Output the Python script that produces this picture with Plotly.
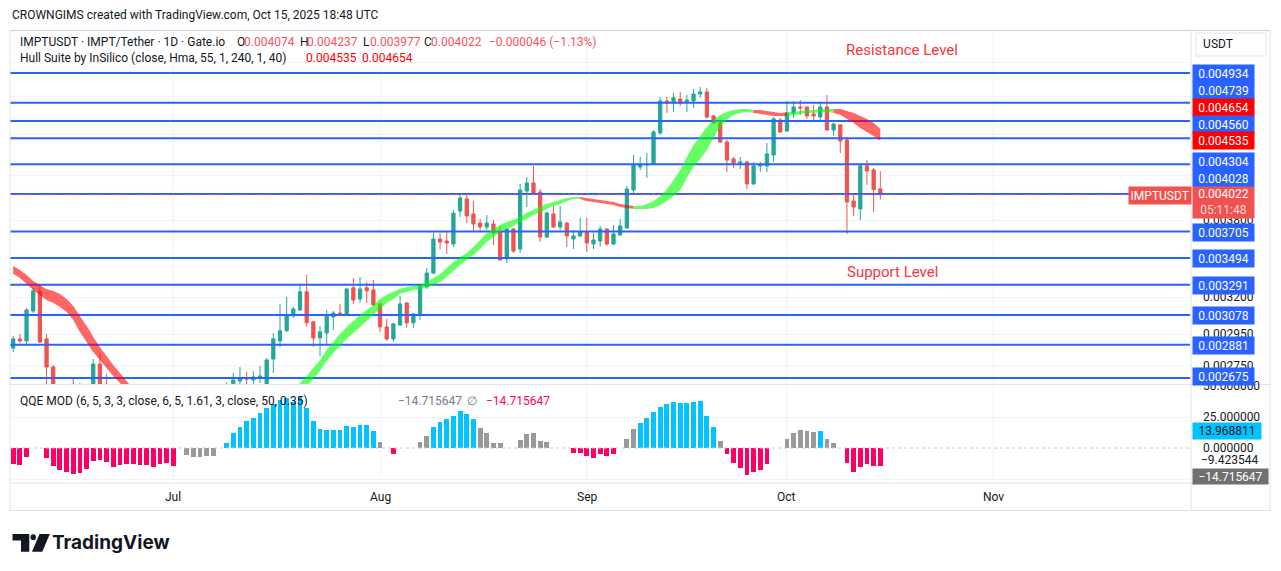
import math
import pandas as pd
import plotly.graph_objects as go

# ---------------- data ----------------
start_date = "2025-06-07"

opens = [
    0.002859, 0.002918, 0.002905, 0.003105, 0.003240, 0.002918, 0.002741, 0.002590, 0.002540, 0.002490,
    0.002450, 0.002530, 0.002510, 0.002759, 0.002540, 0.002470, 0.002430, 0.002460, 0.002420, 0.002440,
    0.002410, 0.002430, 0.002400, 0.002440, 0.002420, 0.002450, 0.002480, 0.002470, 0.002510, 0.002540,
    0.002530, 0.002570, 0.002600, 0.002634, 0.002657, 0.002675, 0.002663, 0.002675, 0.002634, 0.002790,
    0.002905, 0.002971, 0.003071, 0.003112, 0.003240, 0.003031, 0.002924, 0.002957, 0.003064, 0.003091,
    0.003085, 0.003269, 0.003189, 0.003269, 0.003254, 0.003154, 0.002997, 0.002918, 0.003010, 0.003161,
    0.003024, 0.003078, 0.003276, 0.003378, 0.003644, 0.003628, 0.003604, 0.003878, 0.003984, 0.003853,
    0.003776, 0.003743, 0.003768, 0.003701, 0.003486, 0.003726, 0.003564, 0.004055, 0.004128, 0.004046,
    0.003660, 0.003853, 0.003743, 0.003776, 0.003644, 0.003669, 0.003701, 0.003604, 0.003628, 0.003726,
    0.003604, 0.003677, 0.003735, 0.004064, 0.004277, 0.004296, 0.004305, 0.004614, 0.004954, 0.004932,
    0.004976, 0.004943, 0.004954, 0.005031, 0.005054, 0.004792, 0.004718, 0.004522, 0.004354, 0.004316,
    0.004325, 0.004119, 0.004287, 0.004287, 0.004393, 0.004749, 0.004634, 0.004823, 0.004888, 0.004888,
    0.004813, 0.004781, 0.004888, 0.004644, 0.004697, 0.004542, 0.003966, 0.003896, 0.004287, 0.004249,
    0.004074,
]
highs = [
    0.002937, 0.002951, 0.003126, 0.003269, 0.003298, 0.002951, 0.002753, 0.002640, 0.002570, 0.002675,
    0.002645, 0.002580, 0.002790, 0.002828, 0.002699, 0.002520, 0.002500, 0.002490, 0.002480, 0.002470,
    0.002460, 0.002450, 0.002470, 0.002470, 0.002480, 0.002510, 0.002520, 0.002540, 0.002570, 0.002580,
    0.002600, 0.002630, 0.002650, 0.002705, 0.002741, 0.002711, 0.002717, 0.002747, 0.002796, 0.002957,
    0.003154, 0.003204, 0.003133, 0.003298, 0.003364, 0.003031, 0.003004, 0.003112, 0.003105, 0.003154,
    0.003269, 0.003342, 0.003349, 0.003313, 0.003327, 0.003161, 0.003051, 0.003024, 0.003211, 0.003168,
    0.003091, 0.003298, 0.003416, 0.003693, 0.003693, 0.003701, 0.003887, 0.004019, 0.004028, 0.003966,
    0.003810, 0.003844, 0.003802, 0.003743, 0.003735, 0.003735, 0.004119, 0.004183, 0.004287, 0.004073,
    0.003870, 0.003922, 0.003922, 0.003785, 0.003718, 0.003819, 0.003819, 0.003693, 0.003752, 0.003735,
    0.003760, 0.003810, 0.004101, 0.004392, 0.004373, 0.004412, 0.004644, 0.004999, 0.004999, 0.005043,
    0.005054, 0.005020, 0.005088, 0.005111, 0.005099, 0.004802, 0.004749, 0.004542, 0.004373, 0.004373,
    0.004335, 0.004325, 0.004325, 0.004512, 0.004781, 0.004770, 0.004954, 0.004954, 0.004965, 0.004895,
    0.004910, 0.004943, 0.005020, 0.004718, 0.004707, 0.004573, 0.004019, 0.004305, 0.004344, 0.004268,
    0.004237,
]
lows = [
    0.002834, 0.002891, 0.002879, 0.003091, 0.002891, 0.002622, 0.002560, 0.002500, 0.002440, 0.002420,
    0.002430, 0.002470, 0.002490, 0.002500, 0.002440, 0.002390, 0.002400, 0.002380, 0.002390, 0.002380,
    0.002370, 0.002360, 0.002380, 0.002390, 0.002400, 0.002430, 0.002440, 0.002450, 0.002490, 0.002500,
    0.002510, 0.002550, 0.002580, 0.002610, 0.002628, 0.002634, 0.002640, 0.002645, 0.002615, 0.002705,
    0.002866, 0.002964, 0.003058, 0.003105, 0.002997, 0.002866, 0.002809, 0.002879, 0.002977, 0.003074,
    0.003078, 0.003154, 0.003161, 0.003161, 0.003140, 0.002964, 0.002905, 0.002898, 0.003003, 0.002991,
    0.002991, 0.003044, 0.003261, 0.003370, 0.003564, 0.003525, 0.003580, 0.003827, 0.003776, 0.003701,
    0.003710, 0.003718, 0.003596, 0.003470, 0.003455, 0.003533, 0.003533, 0.003913, 0.004030, 0.003620,
    0.003652, 0.003735, 0.003718, 0.003580, 0.003564, 0.003660, 0.003540, 0.003564, 0.003580, 0.003588,
    0.003596, 0.003670, 0.003727, 0.004037, 0.004249, 0.004174, 0.004296, 0.004594, 0.004822, 0.004833,
    0.004899, 0.004833, 0.004877, 0.004987, 0.004760, 0.004710, 0.004512, 0.004230, 0.004268, 0.004258,
    0.004073, 0.004110, 0.004230, 0.004230, 0.004325, 0.004614, 0.004624, 0.004770, 0.004802, 0.004760,
    0.004749, 0.004739, 0.004640, 0.004583, 0.004412, 0.003685, 0.003836, 0.003802, 0.004110, 0.003870,
    0.003977,
]
closes = [
    0.002918, 0.002905, 0.003112, 0.003247, 0.002898, 0.002741, 0.002590, 0.002540, 0.002490, 0.002450,
    0.002530, 0.002510, 0.002759, 0.002540, 0.002470, 0.002430, 0.002460, 0.002420, 0.002440, 0.002410,
    0.002430, 0.002400, 0.002440, 0.002420, 0.002450, 0.002480, 0.002470, 0.002510, 0.002540, 0.002530,
    0.002570, 0.002600, 0.002625, 0.002663, 0.002675, 0.002669, 0.002681, 0.002687, 0.002784, 0.002918,
    0.002971, 0.003078, 0.003119, 0.003240, 0.003024, 0.002924, 0.002964, 0.003078, 0.003091, 0.003078,
    0.003261, 0.003182, 0.003261, 0.003247, 0.003147, 0.002997, 0.002918, 0.003017, 0.003154, 0.003024,
    0.003085, 0.003283, 0.003378, 0.003644, 0.003620, 0.003612, 0.003860, 0.003993, 0.003836, 0.003768,
    0.003743, 0.003776, 0.003693, 0.003478, 0.003726, 0.003548, 0.004064, 0.004128, 0.004037, 0.003660,
    0.003861, 0.003743, 0.003785, 0.003669, 0.003669, 0.003701, 0.003612, 0.003636, 0.003726, 0.003604,
    0.003685, 0.003752, 0.004073, 0.004296, 0.004296, 0.004305, 0.004624, 0.004954, 0.004932, 0.004988,
    0.004932, 0.004965, 0.005031, 0.005054, 0.004781, 0.004718, 0.004522, 0.004344, 0.004316, 0.004325,
    0.004119, 0.004287, 0.004305, 0.004403, 0.004760, 0.004624, 0.004823, 0.004888, 0.004877, 0.004792,
    0.004792, 0.004888, 0.004644, 0.004707, 0.004532, 0.003957, 0.003913, 0.004287, 0.004240, 0.004068,
    0.004022,
]

# Hull Suite band (two edges) and its trend state: D = falling (red), U = rising (green), . = not shown
N_ = None
hull_upper = [
    0.003432, 0.003401, 0.003364, 0.003320, 0.003290, 0.003261, 0.003247, 0.003225, 0.003189, 0.003140,
    0.003071, 0.003004, 0.002931, 0.002866, 0.002809, 0.002753, 0.002705, 0.002657, 0.002611, 0.002570,
    0.002531, N_, N_, N_, N_, N_, N_, N_, N_, N_,
    N_, N_, N_, N_, N_, N_, N_, N_, N_, N_,
    0.002520, 0.002559, 0.002605, 0.002646, 0.002687, 0.002735, 0.002784, 0.002847, 0.002898, 0.002951,
    0.002997, 0.003037, 0.003078, 0.003112, 0.003147, 0.003189, 0.003218, 0.003240, 0.003261, 0.003276,
    0.003283, 0.003290, 0.003313, 0.003342, 0.003371, 0.003416, 0.003463, 0.003501, 0.003533, 0.003580,
    0.003636, 0.003693, 0.003726, 0.003760, 0.003785, 0.003802, 0.003827, 0.003861, 0.003887, 0.003913,
    0.003939, 0.003957, 0.003975, 0.003993, 0.004002, 0.004002, 0.003993, 0.003984, 0.003975, 0.003966,
    0.003957, 0.003939, 0.003930, 0.003922, 0.003922, 0.003939, 0.003966, 0.004010, 0.004073, 0.004155,
    0.004249, 0.004373, 0.004492, 0.004583, 0.004676, 0.004749, 0.004802, 0.004833, 0.004855, 0.004866,
    0.004866, 0.004855, 0.004855, 0.004844, 0.004833, 0.004823, 0.004833, 0.004833, 0.004844, 0.004855,
    0.004855, 0.004866, 0.004866, 0.004866, 0.004866, 0.004844, 0.004823, 0.004792, 0.004760, 0.004718,
    0.004654,
]
hull_lower = [
    0.003371, 0.003342, 0.003298, 0.003254, 0.003218, 0.003182, 0.003161, 0.003133, 0.003098, 0.003044,
    0.002964, 0.002898, 0.002834, 0.002784, 0.002735, 0.002687, 0.002646, 0.002599, 0.002559, 0.002520,
    0.002481, N_, N_, N_, N_, N_, N_, N_, N_, N_,
    N_, N_, N_, N_, N_, N_, N_, N_, N_, N_,
    0.002448, 0.002492, 0.002537, 0.002582, 0.002628, 0.002669, 0.002717, 0.002778, 0.002828, 0.002872,
    0.002918, 0.002957, 0.002997, 0.003037, 0.003078, 0.003119, 0.003161, 0.003189, 0.003225, 0.003240,
    0.003254, 0.003261, 0.003276, 0.003290, 0.003313, 0.003349, 0.003394, 0.003440, 0.003478, 0.003517,
    0.003564, 0.003620, 0.003660, 0.003701, 0.003726, 0.003752, 0.003785, 0.003810, 0.003844, 0.003870,
    0.003896, 0.003922, 0.003939, 0.003966, 0.003984, 0.003984, 0.003966, 0.003957, 0.003948, 0.003939,
    0.003930, 0.003913, 0.003904, 0.003896, 0.003896, 0.003896, 0.003904, 0.003930, 0.003966, 0.004010,
    0.004064, 0.004174, 0.004277, 0.004354, 0.004442, 0.004562, 0.004676, 0.004749, 0.004802, 0.004823,
    0.004833, 0.004823, 0.004813, 0.004802, 0.004792, 0.004792, 0.004792, 0.004802, 0.004813, 0.004823,
    0.004823, 0.004833, 0.004833, 0.004823, 0.004802, 0.004760, 0.004718, 0.004666, 0.004624, 0.004583,
    0.004535,
]
hull_state = ("DDDDDDDDDD" "DDDDDDDDDD" "D........." ".........."
              "UUUUUUUUUU" "UUUUUUUUUU" "UUUUUUUUUU" "UUUUUUUUUU"
              "UUUUUDDDDD" "DDDUUUUUUU" "UUUUUUUUUU" "UDDDDDUUUU"
              "UUUDDDDDDD" "D")

# QQE MOD histogram and bar state: p = pink (bearish), b = blue (bullish), g = grey, . = none
qqe_hist = [
    -12.9, -13.7, -7.0, N_, N_, -8.3, -14.2, -17.7, -19.6, -21.0,
    -19.9, -16.9, -10.5, -9.7, -11.0, -15.1, -13.7, -12.9, -12.9, -13.7,
    -13.7, -15.1, -12.9, -12.4, -14.2, N_, -5.6, -7.0, -7.0, -6.2,
    -6.2, N_, 3.8, 11.8, 17.2, 21.8, 24.5, 28.0, 32.0, 35.2,
    38.7, 40.0, 36.8, 41.4, 32.5, 21.8, 15.3, 14.5, 14.5, 14.5,
    18.0, 17.2, 18.5, 18.5, 13.7, 5.1, N_, -4.8, N_, N_,
    N_, 5.1, 9.9, 16.7, 21.2, 23.1, 26.1, 30.1, 27.2, 23.1,
    16.4, 12.4, 3.8, 4.3, N_, N_, 6.5, 11.0, 11.8, 5.6,
    4.6, N_, N_, N_, -3.8, -4.3, -6.2, -7.8, -4.8, -6.4,
    -4.6, N_, 7.3, 15.3, 19.9, 24.2, 29.0, 33.0, 35.5, 37.4,
    36.6, 36.6, 37.4, 38.2, 25.8, 16.9, 5.6, -4.8, -11.8, -15.9,
    -21.8, -19.1, -17.7, -12.9, N_, N_, 7.3, 11.8, 14.5, 13.7,
    12.6, 13.7, 7.3, 4.3, N_, -11.8, -19.1, -15.1, -13.2, -14.2,
    -14.72,
]
qqe_state = ("ppp..ppppp" "pppppppppp" "ppppp.gggg" "g.bbbbbbbb"
             "bbbbbbbbbb" "bbbbbg.p.." ".ggbbbbbbb" "gggg..gggg"
             "g...pppppp" "p.ggbbbbbb" "bbbbbbgppp" "pppp..gggg"
             "gbgg.ppppp" "p")

level_prices = [0.005272, 0.004934, 0.004739, 0.004560, 0.004304, 0.004028,
                0.003705, 0.003494, 0.003291, 0.003078, 0.002881, 0.002675]
grid_prices = [0.00275, 0.00295, 0.0032, 0.0035, 0.0038, 0.0042, 0.0046, 0.005, 0.0054]
axis_tick_prices = [0.0038, 0.0032, 0.00295, 0.00275]
qqe_ticks = [50, 25, 0]
month_ticks = ["2025-07-01", "2025-08-01", "2025-09-01", "2025-10-01", "2025-11-01"]
month_labels = ["Jul", "Aug", "Sep", "Oct", "Nov"]

n = len(closes)
assert all(len(a) == n for a in (opens, highs, lows, hull_upper, hull_lower, qqe_hist))
assert len(hull_state) == n and len(qqe_state) == n

# ---------------- geometry / styles ----------------
W, H = 1281, 571
def px(x): return x / W
def py(y): return 1 - y / H

UP, DN = "#26a69a", "#ef5350"
BLUE = "#2962ff"
GRID = "#f0f3fa"
BORDER = "#e0e3eb"
TXT = "#131722"
FONT = "Roboto"

dates = pd.date_range(start_date, periods=n, freq="D")
day = pd.Timedelta(days=1)
x_lo = pd.Timestamp(start_date) - 0.48 * day
x_hi = pd.Timestamp(start_date) + 176.43 * day
y_lo, y_hi = 0.0026395, 0.005788

fig = go.Figure()

fig.add_trace(go.Candlestick(
    x=dates, open=opens, high=highs, low=lows, close=closes,
    increasing=dict(line=dict(color=UP, width=1), fillcolor=UP),
    decreasing=dict(line=dict(color=DN, width=1), fillcolor=DN),
    whiskerwidth=0, showlegend=False, hoverinfo="skip", xaxis="x", yaxis="y"))

for p in level_prices:
    fig.add_trace(go.Scatter(x=[x_lo, x_hi], y=[p, p], mode="lines",
                             line=dict(color=BLUE, width=2), hoverinfo="skip",
                             showlegend=False, xaxis="x", yaxis="y"))

fig.add_trace(go.Scatter(x=[x_lo, x_hi], y=[closes[-1], closes[-1]], mode="lines",
                         line=dict(color="#f7525f", width=1, dash="dot"), hoverinfo="skip",
                         showlegend=False, xaxis="x", yaxis="y"))

# Hull band segments
segs = []
cur = None
for i, s in enumerate(hull_state):
    if s == ".":
        cur = None
        continue
    if cur is None or cur[0] != s:
        cur = [s, [i]]
        segs.append(cur)
    else:
        cur[1].append(i)
for s, idx in segs:
    last = idx[-1]
    if last + 1 < n and hull_state[last + 1] != ".":
        idx = idx + [last + 1]
    xs = [dates[i] for i in idx]
    col = "rgba(0,255,0,0.6)" if s == "U" else "rgba(255,0,0,0.6)"
    fig.add_trace(go.Scatter(x=xs, y=[hull_upper[i] for i in idx], mode="lines",
                             line=dict(width=0, color="rgba(0,0,0,0)", shape="spline", smoothing=0.6),
                             hoverinfo="skip", showlegend=False, xaxis="x", yaxis="y"))
    fig.add_trace(go.Scatter(x=xs, y=[hull_lower[i] for i in idx], mode="lines", fill="tonexty",
                             fillcolor=col,
                             line=dict(width=0, color="rgba(0,0,0,0)", shape="spline", smoothing=0.6),
                             hoverinfo="skip", showlegend=False, xaxis="x", yaxis="y"))

# QQE histogram
qcol = {"p": "#ff0062", "b": "#00c3ff", "g": "#999999"}
fig.add_trace(go.Bar(x=dates, y=qqe_hist,
                     marker=dict(color=[qcol.get(s, "rgba(0,0,0,0)") for s in qqe_state], line=dict(width=0)),
                     width=0.72 * 86400000, hoverinfo="skip", showlegend=False, xaxis="x2", yaxis="y2"))
fig.add_trace(go.Scatter(x=[x_lo, x_hi], y=[0, 0], mode="lines",
                         line=dict(color="#c9ccd6", width=1, dash="dot"), hoverinfo="skip",
                         showlegend=False, xaxis="x2", yaxis="y2"))

# ---------------- layout ----------------
fig.update_layout(
    width=W, height=H, margin=dict(l=0, r=0, t=0, b=0),
    paper_bgcolor="white", plot_bgcolor="white", showlegend=False, bargap=0,
    font=dict(family=FONT, color=TXT, size=12),
    xaxis=dict(domain=[px(10), px(1190)], range=[x_lo, x_hi], type="date", anchor="y",
               tickvals=month_ticks, showticklabels=False, showgrid=True, gridcolor=GRID,
               zeroline=False, showline=False, rangeslider=dict(visible=False)),
    xaxis2=dict(domain=[px(10), px(1190)], range=[x_lo, x_hi], type="date", anchor="y2",
                tickvals=month_ticks, showticklabels=False, showgrid=True, gridcolor=GRID,
                zeroline=False, showline=False),
    yaxis=dict(domain=[py(384), py(31)], type="log",
               range=[math.log10(y_lo), math.log10(y_hi)], anchor="x",
               tickvals=grid_prices, showticklabels=False, showgrid=True, gridcolor=GRID,
               zeroline=False),
    yaxis2=dict(domain=[py(483), py(385)], range=[-28.2, 50.8], anchor="x2",
                tickvals=[-25, 25, 50], showticklabels=False, showgrid=True, gridcolor=GRID,
                zeroline=False),
)

shapes = []
def hline(y, x0, x1, color=BORDER, w=1):
    shapes.append(dict(type="line", xref="paper", yref="paper", x0=px(x0), x1=px(x1),
                       y0=py(y), y1=py(y), line=dict(color=color, width=w)))
def vline(x, y0, y1, color=BORDER, w=1):
    shapes.append(dict(type="line", xref="paper", yref="paper", x0=px(x), x1=px(x),
                       y0=py(y0), y1=py(y1), line=dict(color=color, width=w)))

hline(30.5, 10, 1270, "#c9d0e0")
hline(384.5, 10, 1270)
hline(483, 10, 1270)
hline(510.5, 10, 1270)
vline(10, 30.5, 510.5)
vline(1191, 30.5, 510.5)
vline(1270, 30.5, 510.5)

# USDT button
shapes.append(dict(type="rect", xref="paper", yref="paper", x0=px(1196), x1=px(1266),
                   y0=py(56), y1=py(33), line=dict(color=BORDER, width=1), fillcolor="white"))

# TradingView logo mark
def path(pts):
    return "M " + " L ".join(f"{px(x):.5f},{py(y):.5f}" for x, y in pts) + " Z"
shapes.append(dict(type="path", xref="paper", yref="paper",
                   path=path([(12.5, 534), (29.3, 534), (29.3, 551.7), (21, 551.7), (21, 540.5), (12.5, 540.5)]),
                   fillcolor="#131722", line=dict(width=0)))
shapes.append(dict(type="circle", xref="paper", yref="paper", x0=px(30.5), x1=px(36.0),
                   y0=py(540.2), y1=py(534.2), fillcolor="#131722", line=dict(width=0)))
shapes.append(dict(type="path", xref="paper", yref="paper",
                   path=path([(39.5, 534), (49.8, 534), (42.3, 551.7), (32.0, 551.7)]),
                   fillcolor="#131722", line=dict(width=0)))
fig.update_layout(shapes=shapes)

ann = []
def text(t, x, y, color=TXT, size=12, anchor="left", weight=None, family=FONT):
    f = dict(color=color, size=size, family=family)
    if weight:
        f["weight"] = weight
    ann.append(dict(text=t, xref="paper", yref="paper", x=px(x), y=py(y), xanchor=anchor,
                    yanchor="middle", showarrow=False, font=f))

def box(t, yc, bg, x0=1192.5, w=61, h=17.4, fc="white", size=12):
    ann.append(dict(text=t, xref="paper", yref="paper", x=px(x0 + w / 2), y=py(yc),
                    xanchor="center", yanchor="middle", showarrow=False, width=w, height=h,
                    bgcolor=bg, borderpad=0, align="center", font=dict(color=fc, size=size, family=FONT)))

# header
text("CROWNGIMS created with TradingView.com, Oct 15, 2025 18:48 UTC", 10, 15, size=12)
text("IMPTUSDT · IMPT/Tether · 1D · Gate.io", 18, 42)
ohlc_labels = ["O", "H", "L", "C"]
ohlc_vals = [opens[-1], highs[-1], lows[-1], closes[-1]]
ohlc_x = [234.5, 297.5, 361, 422]
for lab, val, x in zip(ohlc_labels, ohlc_vals, ohlc_x):
    text(lab, x, 42)
    text(f"{val:.6f}", x + 7, 42, color="#f7525f")
chg = closes[-1] - closes[-2]
text(f"−{abs(chg):.6f} (−{abs(chg) / closes[-2] * 100:.2f}%)", 486.5, 42, color="#f7525f")
text("Hull Suite by InSilico (close, Hma, 55, 1, 240, 1, 40)", 18, 58)
text(f"{hull_lower[-1]:.6f}", 304, 58, color="#ff0000")
text(f"{hull_upper[-1]:.6f}", 360, 58, color="#ff0000")

text("Resistance Level", 902, 50, color="#f23645", size=15, anchor="center")
text("Support Level", 892, 272, color="#f23645", size=15, anchor="center")

# QQE legend
text("QQE MOD (6, 5, 3, 3, close, 6, 5, 1.61, 3, close, 50, 0.35)", 18, 401)
text("−14.715647", 396, 401, color="#787b86")
text("∅", 465, 401, color="#787b86")
text("−14.715647", 484, 401, color="#ff0062")

# price-axis tick labels (under the boxes)
for p in axis_tick_prices:
    ann.append(dict(text=f"{p:.6f}", xref="paper", yref="y", x=px(1201), y=math.log10(p),
                    xanchor="left", yanchor="middle", showarrow=False, font=dict(color=TXT, size=12, family=FONT)))
for v in qqe_ticks:
    ann.append(dict(text=f"{v:.6f}", xref="paper", yref="y2", x=px(1201), y=v,
                    xanchor="left", yanchor="middle", showarrow=False, font=dict(color=TXT, size=12, family=FONT)))
text("−9.423544", 1199, 460)

# price-axis boxes (positions as displayed, after label collision shifting)
box("USDT", 44, "rgba(0,0,0,0)", x0=1198, w=40, fc=TXT)
right_labels = [
    ("0.004934", 73.3, BLUE), ("0.004739", 90.7, BLUE), ("0.004654", 107.7, "#ff0000"),
    ("0.004560", 124.6, BLUE), ("0.004535", 140.2, "#ff0000"), ("0.004304", 161.7, BLUE),
    ("0.004028", 178.3, BLUE), ("0.003705", 232.7, BLUE), ("0.003494", 258.3, BLUE),
    ("0.003291", 285.0, BLUE), ("0.003078", 315.6, BLUE), ("0.002881", 345.6, BLUE),
    ("0.002675", 376.4, BLUE),
]
for t, yc, c in right_labels:
    box(t, yc, c)
box(f"{closes[-1]:.6f}<br><span style='color:#fcdada'>05:11:48</span>", 202, "#ef5350", h=30.5)
box("IMPTUSDT", 195.3, "#ef5350", x0=1129.5, w=61.5, h=17)
box("13.968811", 431, "#00c3ff", x0=1192.5, w=68, h=16, fc=TXT)
box("−14.715647", 476.5, "#707070", x0=1192.5, w=75, h=15)

# time axis labels
for d, lab in zip(month_ticks, month_labels):
    ann.append(dict(text=lab, xref="x", yref="paper", x=d, y=py(496.5), xanchor="center",
                    yanchor="middle", showarrow=False, font=dict(color=TXT, size=12, family=FONT)))

# watermark logo text
text("TradingView", 50, 542, color="#131722", size=19, weight=700, family="Inter")

fig.update_layout(annotations=ann)
fig.write_html("out.html", config={"displayModeBar": False})
